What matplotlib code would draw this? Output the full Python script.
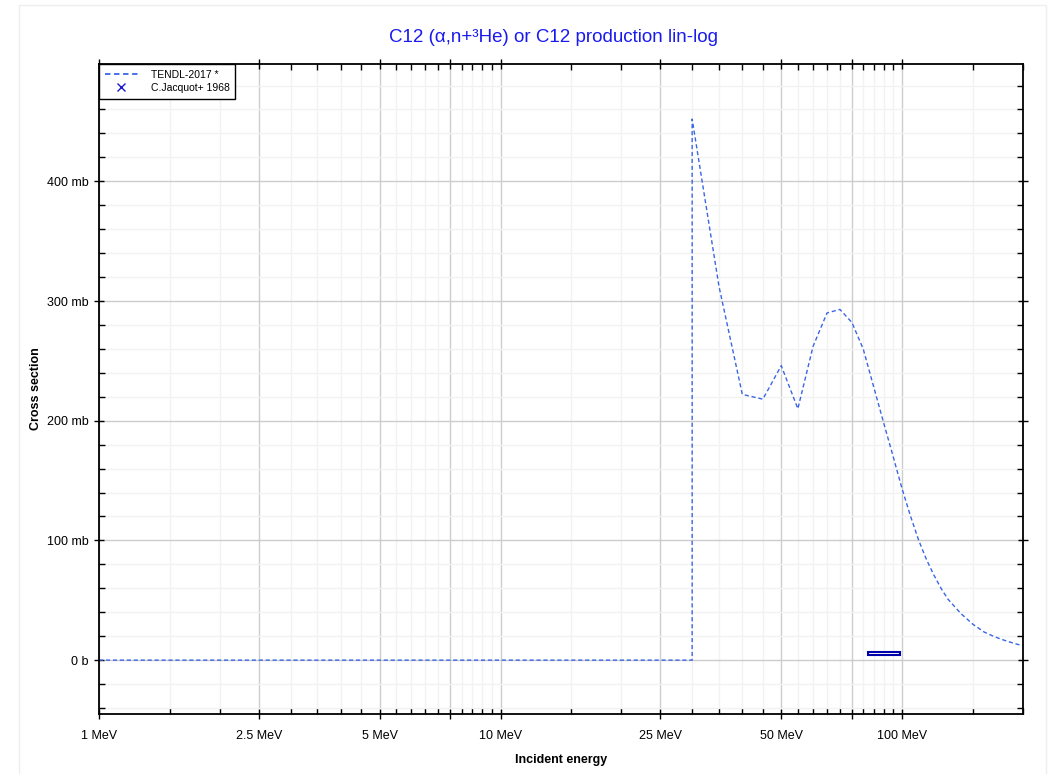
import matplotlib.pyplot as plt
from matplotlib.patches import Rectangle
from matplotlib.lines import Line2D
from matplotlib.ticker import FixedLocator, NullFormatter

plt.rcParams['font.family'] = ['Liberation Sans', 'DejaVu Sans']

# TENDL-2017 evaluation (MeV, mb)
tendlE = [1, 30, 30, 35, 40, 45, 50, 55, 60, 65, 70, 75, 80, 85, 90, 95, 100,
          105, 110, 115, 120, 125, 130, 140, 150, 160, 170, 180, 190, 200]
tendlXS = [0, 0, 452, 312, 222, 218, 246, 210, 262, 290, 293, 282, 260, 228, 198,
           170, 143, 120, 100, 84, 71, 60, 51, 39, 30, 23.5, 19.5, 16.5, 14, 12]

# C.Jacquot+ 1968 (MeV, mb)
expE = [90.4]
expEerr = [8.2]
expXS = [5.6]
expXSerr = [1.1]

xMajor = [1, 2.5, 5, 7.5, 10, 25, 50, 75, 100]
xLabels = ['1 MeV', '2.5 MeV', '5 MeV', '', '10 MeV', '25 MeV', '50 MeV', '', '100 MeV']
xMinor = [1.5, 2, 3, 3.5, 4, 4.5, 5.5, 6, 6.5, 7, 8, 8.5, 9, 9.5, 15, 20,
          30, 35, 40, 45, 55, 60, 65, 70, 80, 85, 90, 95, 150, 200]
yMajor = [0, 100, 200, 300, 400]
yLabels = ['0 b', '100 mb', '200 mb', '300 mb', '400 mb']

fig = plt.figure(figsize=(10.55, 7.74), dpi=100)
ax = fig.add_axes([99 / 1055, 60 / 774, 924 / 1055, 650 / 774])

# light outer frame
fig.patches.append(Rectangle((19 / 1055, -0.01), 1027 / 1055, 1 - 5 / 774 + 0.01,
                             transform=fig.transFigure, fill=False,
                             edgecolor='#eeeeee', lw=1))

ax.plot(tendlE, tendlXS, color='#3a66e6', lw=1, dashes=(3, 2))

for e, de, s, ds in zip(expE, expEerr, expXS, expXSerr):
    ax.add_patch(Rectangle((e - de, s - ds), 2 * de, 2 * ds, facecolor='white',
                           edgecolor='#0000aa', lw=1.5, zorder=3))

ax.set_xscale('log')
ax.set_xlim(1, 200)
ax.set_ylim(-45, 498)

ax.xaxis.set_major_locator(FixedLocator(xMajor))
ax.set_xticklabels(xLabels)
ax.xaxis.set_minor_locator(FixedLocator(xMinor))
ax.xaxis.set_minor_formatter(NullFormatter())
ax.yaxis.set_major_locator(FixedLocator(yMajor))
ax.set_yticklabels(yLabels)
ax.yaxis.set_minor_locator(FixedLocator(range(-40, 500, 20)))

ax.grid(True, which='major', color='#cccccc', lw=1)
ax.grid(True, which='minor', color='#f2f2f2', lw=1)
ax.set_axisbelow(True)

ax.tick_params(which='major', direction='inout', length=7, width=1,
               labelsize=9, top=True, right=True, pad=8)
ax.tick_params(axis='y', which='major', pad=4)
ax.tick_params(which='minor', direction='in', length=4, width=1, top=True, right=True)
for sp in ax.spines.values():
    sp.set_linewidth(1.3)

ax.set_xlabel('Incident energy', fontsize=9, fontweight='bold', labelpad=9)
ax.set_ylabel('Cross section', fontsize=9, fontweight='bold')
ax.yaxis.set_label_coords(-57 / 924, 0.5)
fig.suptitle('C12 (α,n+³He) or C12 production lin-log', color='#1a1aee',
             fontsize=13.5, x=0.525, y=0.963)

handles = [Line2D([], [], color='#3a66e6', lw=1.3, dashes=(3, 2)),
           Line2D([], [], color='#1a1acc', ls='none', marker='x', markersize=6)]
leg = ax.legend(handles, ['TENDL-2017 *', 'C.Jacquot+ 1968'], loc='upper left',
                bbox_to_anchor=(0, 1), borderaxespad=0, fontsize=7.5, fancybox=False,
                framealpha=1, edgecolor='black', handlelength=3.2, handletextpad=1.2,
                borderpad=0.55, labelspacing=0.3)
leg.get_frame().set_linewidth(1)

fig.savefig('out.png', dpi=100)
